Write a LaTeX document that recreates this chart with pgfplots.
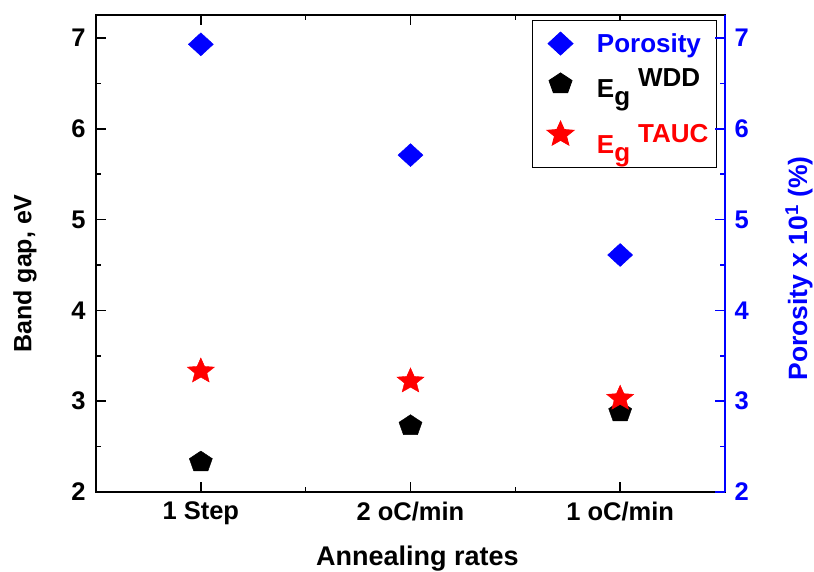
\documentclass[border=0pt]{standalone}
\usepackage{pgfplots}
\pgfplotsset{compat=1.18}
\usetikzlibrary{plotmarks}
\usepackage{fontspec}
\setmainfont{Liberation Sans}

\definecolor{pblue}{RGB}{0,0,255}
\definecolor{pred}{RGB}{255,0,0}

% filled five-pointed star
\pgfdeclareplotmark{fstar}{%
  \pgfpathmoveto{\pgfpointpolar{90}{\pgfplotmarksize}}%
  \pgfpathlineto{\pgfpointpolar{126}{0.45\pgfplotmarksize}}%
  \pgfpathlineto{\pgfpointpolar{162}{\pgfplotmarksize}}%
  \pgfpathlineto{\pgfpointpolar{198}{0.45\pgfplotmarksize}}%
  \pgfpathlineto{\pgfpointpolar{234}{\pgfplotmarksize}}%
  \pgfpathlineto{\pgfpointpolar{270}{0.45\pgfplotmarksize}}%
  \pgfpathlineto{\pgfpointpolar{306}{\pgfplotmarksize}}%
  \pgfpathlineto{\pgfpointpolar{342}{0.45\pgfplotmarksize}}%
  \pgfpathlineto{\pgfpointpolar{18}{\pgfplotmarksize}}%
  \pgfpathlineto{\pgfpointpolar{54}{0.45\pgfplotmarksize}}%
  \pgfpathclose
  \pgfusepathqfillstroke
}

\pgfplotsset{
  common/.style={
    scale only axis, width=629pt, height=477pt,
    xmin=-0.5, xmax=2.5, ymin=2, ymax=7.253,
    ytick={2,...,7}, minor y tick num=1,
    tick align=inside,
    major tick length=10pt, minor tick length=5pt,
    every tick/.style={line width=1.6pt},
    /pgf/number format/assume math mode=true,
    ticklabel style={font=\fontsize{25.5}{28}\selectfont\bfseries},
    label style={font=\fontsize{27}{30}\selectfont\bfseries},
  },
  porosity/.style={only marks, mark=diamond*, mark size=11.5pt,
    mark options={xscale=1.45, draw=pblue, fill=pblue}},
}

\begin{document}
\begin{tikzpicture}
\begin{axis}[
  common,
  xtick={0,1,2},
  xticklabels={1 Step, 2 oC/min, 1 oC/min},
  minor x tick num=1,
  xtick pos=both, ytick pos=left,
  axis line style={line width=1.6pt},
  xlabel={Annealing rates},
  ylabel={Band gap, eV},
  xlabel style={at={(axis description cs:0.5,0)}, anchor=center,
    xshift=7pt, yshift=-67pt},
  ylabel style={at={(axis description cs:0,0.5)}, anchor=center,
    xshift=-20pt, yshift=71pt, font=\fontsize{25}{28}\selectfont\bfseries},
  yticklabel style={xshift=-7pt},
  xticklabel style={yshift=-6.5pt},
  legend style={at={(rel axis cs:0.987,0.9895)}, anchor=north east,
    draw=black, line width=0.8pt, fill=white,
    font=\fontsize{26}{29}\selectfont\bfseries,
    row sep=11pt, inner xsep=6pt, inner ysep=11pt,
    legend cell align=left},
  legend image code/.code={%
    \path (0pt,0pt) (56pt,0pt);
    \draw[#1] plot coordinates {(22pt,0pt)};},
]
\addlegendimage{porosity}
\addlegendentry{\textcolor{pblue}{Porosity}}
\addplot[only marks, mark=pentagon*, mark size=11pt,
  mark options={xscale=1.1, draw=black, fill=black}]
  coordinates {(0,2.33) (1,2.73) (2,2.88)};
\addlegendentry{E\raisebox{-8pt}{g}\hspace{8pt}\raisebox{11pt}{WDD}}
\addplot[only marks, mark=fstar, mark size=13.3pt,
  mark options={xscale=1.07, draw=pred, fill=pred}]
  coordinates {(0,3.33) (1,3.22) (2,3.03)};
\addlegendentry{\rule[-16pt]{0pt}{55pt}\textcolor{pred}{E\raisebox{-8pt}{g}\hspace{8pt}\raisebox{11pt}{TAUC}}}
\end{axis}
\begin{axis}[
  common,
  axis x line=none,
  axis y line*=right,
  y axis line style={-, draw=pblue, line width=1.6pt},
  ytick style={draw=pblue},
  yticklabel style={text=pblue, xshift=6pt},
  ylabel={Porosity x 10\textsuperscript{1} (\%)},
  ylabel style={text=pblue, at={(axis description cs:1,0.5)}, anchor=center,
    xshift=-15pt, yshift=-74pt, font=\fontsize{26.5}{30}\selectfont\bfseries},
]
\addplot[porosity]
  coordinates {(0,6.93) (1,5.71) (2,4.61)};
\end{axis}
\pgfresetboundingbox
\path[use as bounding box] (-96pt,-80pt) rectangle (718pt,492pt);
\end{tikzpicture}
\end{document}
